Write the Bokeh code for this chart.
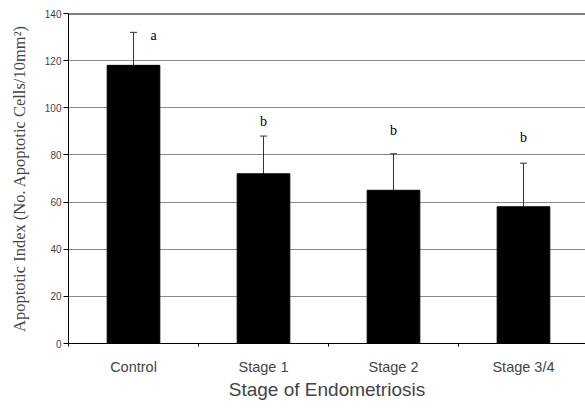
from bokeh.plotting import figure
from bokeh.models import Range1d, FixedTicker, Whisker, TeeHead, ColumnDataSource, Span
from bokeh.core.properties import value
from bokeh.embed import file_html
from bokeh.resources import INLINE

categories = ["Control", "Stage 1", "Stage 2", "Stage 3/4"]
means = [118, 72, 65, 58]
sds = [14, 16, 15.5, 18.5]
letters = ["a", "b", "b", "b"]
letter_y = [130.5, 94, 90.5, 87.5]
y_ticks = [0, 20, 40, 60, 80, 100, 120, 140]

xs = list(range(len(categories)))
upper = [m + s for m, s in zip(means, sds)]

p = figure(width=585, height=410, output_backend="svg", toolbar_location=None,
           x_range=Range1d(-0.5, 3.477), y_range=Range1d(0, 140),
           min_border_left=68, min_border_right=0, min_border_top=13, min_border_bottom=67)
p.outline_line_color = None
p.background_fill_color = "white"

src = ColumnDataSource(dict(x=xs, top=means, upper=upper, lx=[x + (0.13 if l == "a" else 0) for x, l in zip(xs, letters)],
                            ly=letter_y, txt=letters, align=["left" if l == "a" else "center" for l in letters]))

p.vbar(x="x", top="top", bottom=0, width=0.405, source=src, fill_color="black", line_color="black")

w = Whisker(base="x", lower="top", upper="upper", source=src, dimension="height",
            line_color="#333333", line_width=1,
            upper_head=TeeHead(size=7, line_color="#333333", line_width=1), lower_head=None)
p.add_layout(w)

p.text(x="lx", y="ly", text="txt", source=src, text_align="align", text_baseline="middle",
       text_font=value("Liberation Serif"), text_font_size="14px", text_color="black")

p.add_layout(Span(location=140, dimension="width", line_color="black", line_width=2))

# grid
p.xgrid.visible = False
p.ygrid.grid_line_color = "#8a8a8a"
p.ygrid.grid_line_width = 1

# y axis
p.yaxis.ticker = FixedTicker(ticks=y_ticks)
p.yaxis.axis_label = "Apoptotic Index (No. Apoptotic Cells/10mm²)"
p.yaxis.axis_label_text_font = "Liberation Serif"
p.yaxis.axis_label_text_font_style = "normal"
p.yaxis.axis_label_text_font_size = "16.5px"
p.yaxis.axis_label_standoff = 13
p.yaxis.major_label_text_font = "Liberation Sans"
p.yaxis.major_label_text_font_size = "10px"
p.yaxis.major_label_standoff = 2
p.yaxis.major_tick_out = 5
p.yaxis.major_tick_in = 0
p.yaxis.minor_tick_line_color = None
p.yaxis.axis_line_color = "black"
p.yaxis.major_tick_line_color = "black"

# x axis
p.xaxis.ticker = FixedTicker(ticks=xs, minor_ticks=[-0.5, 0.5, 1.5, 2.5])
p.xaxis.major_label_overrides = {i: c for i, c in enumerate(categories)}
p.xaxis.major_label_text_font = "Liberation Sans"
p.xaxis.major_label_text_font_size = "14.5px"
p.xaxis.major_label_standoff = 12
p.xaxis.major_tick_out = 0
p.xaxis.major_tick_in = 0
p.xaxis.minor_tick_out = 3
p.xaxis.minor_tick_in = 0
p.xaxis.minor_tick_line_color = "black"
p.xaxis.axis_line_color = "black"
p.xaxis.axis_label = "Stage of Endometriosis"
p.xaxis.axis_label_text_font = "Liberation Sans"
p.xaxis.axis_label_text_font_style = "normal"
p.xaxis.axis_label_text_font_size = "19px"
p.xaxis.axis_label_standoff = 1

open("out.html", "w").write(file_html(p, INLINE))
